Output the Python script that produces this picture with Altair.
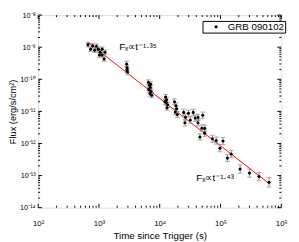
import math
import altair as alt
import pandas as pd

# ---- data ----
time_s = [
    660, 730, 790, 850, 910, 980, 1050, 1130, 1020, 1260, 1220, 1130,
    2850, 2900, 2950, 2900,
    6500, 6800, 7000, 6600, 7200, 6900, 7400, 7100,
    12500, 13000, 12800, 13500, 13200, 12200,
    17500, 18500, 19000, 18000, 19500,
    24800, 26000, 26600, 29700, 31900, 35600, 38300, 42700, 51100, 49300, 55000, 45900, 55000, 42700,
    73500, 85000, 110000, 98000, 150000, 130000, 210000, 300000, 430000, 630000,
]
flux = [
    1.2e-9, 8.7e-10, 1.1e-9, 8.0e-10, 1.07e-9, 8.7e-10, 7.0e-10, 5.7e-10, 5.7e-10, 7.0e-10, 4.3e-10, 8.7e-10,
    3.0e-10, 2.3e-10, 1.7e-10, 2.0e-10,
    8.0e-11, 6.5e-11, 5.5e-11, 4.8e-11, 4.2e-11, 3.6e-11, 3.2e-11, 7.0e-11,
    2.8e-11, 2.3e-11, 1.9e-11, 1.6e-11, 1.3e-11, 2.0e-11,
    2.0e-11, 1.5e-11, 1.2e-11, 9.5e-12, 8.0e-12,
    9.3e-12, 4.4e-12, 6.6e-12, 8.7e-12, 5.4e-12, 9.3e-12, 6.2e-12, 4.4e-12, 7.6e-12, 3.0e-12, 2.1e-12, 1.6e-12, 3.0e-12, 6.5e-12,
    1.4e-12, 1.23e-12, 1.2e-12, 7.1e-13, 4.7e-13, 3.5e-13, 1.6e-13, 1.2e-13, 9.3e-14, 6.2e-14,
]
# error half-width in dex
err_dex = (
    [0.07] * 12 + [0.09] * 4 + [0.08] * 8 + [0.08] * 6 + [0.09] * 5 + [0.10] * 14
    + [0.11, 0.11, 0.11, 0.11, 0.11, 0.11, 0.13, 0.13, 0.13, 0.15]
)
series_name = "GRB 090102"

fit_t = [660, 30000, 650000]
fit_f = [1.42e-9, 5.0e-12, 5.4e-14]

ann_t = [2150, 40000]
ann_f = [1.0e-9, 8.5e-14]
ann_text = ["Fₓ∝t⁻¹·³⁵", "Fₓ∝t⁻¹·⁴³"]

x_major = [1e2, 1e3, 1e4, 1e5, 1e6]
x_labels = ["10²", "10³", "10⁴", "10⁵", "10⁶"]
y_major = [1e-14, 1e-13, 1e-12, 1e-11, 1e-10, 1e-9, 1e-8]
y_labels = ["10⁻¹⁴", "10⁻¹³", "10⁻¹²", "10⁻¹¹", "10⁻¹⁰", "10⁻⁹", "10⁻⁸"]
minor_mult = [2, 3, 4, 5, 6, 7, 8, 9]

W, H = 250, 198
FONT = "Liberation Sans"

df = pd.DataFrame({"t": time_s, "f": flux, "e": err_dex})
df["lo"] = df["f"] / (10 ** df["e"])
df["hi"] = df["f"] * (10 ** df["e"])
df["series"] = series_name

fit = pd.DataFrame({"t": fit_t, "f": fit_f})
ann = pd.DataFrame({"t": ann_t, "f": ann_f, "txt": ann_text})

x_minor = [m * d for d in x_major[:-1] for m in minor_mult]
y_minor = [m * d for d in y_major[:-1] for m in minor_mult]
xt = pd.DataFrame({"t": x_major + x_minor, "len": [4] * len(x_major) + [2] * len(x_minor)})
yt = pd.DataFrame({"f": y_major + y_minor, "len": [4] * len(y_major) + [2] * len(y_minor)})


def label_expr(vals, labels):
    parts = []
    for v, l in zip(vals, labels):
        parts.append(f"abs(log(datum.value)/LN10 - ({round(math.log10(v))})) < 0.01 ? '{l}'")
    return " : ".join(parts) + " : ''"


xscale = alt.Scale(type="log", domain=[1e2, 1e6], nice=False)
yscale = alt.Scale(type="log", domain=[1e-14, 1e-8], nice=False)

xaxis = alt.Axis(values=x_major, labelExpr=label_expr(x_major, x_labels), ticks=False, domain=False,
                 grid=False, labelFontSize=8, labelPadding=12, title="Time since Trigger (s)",
                 titleFontSize=10, titleFontWeight="normal", titlePadding=4, labelFont=FONT, titleFont=FONT,
                 labelColor="black", titleColor="black", labelFlush=False)
yaxis = alt.Axis(values=y_major, labelExpr=label_expr(y_major, y_labels), ticks=False, domain=False,
                 grid=False, labelFontSize=7.5, labelPadding=3, title="Flux (erg/s/cm²)",
                 titleFontSize=9.5, titleFontWeight="normal", titleX=-26, titleY=H / 2,
                 titleBaseline="middle", titleAlign="center", labelFont=FONT, titleFont=FONT,
                 labelColor="black", titleColor="black", labelFlush=False)

X = alt.X("t:Q", scale=xscale, axis=xaxis)
Y = alt.Y("f:Q", scale=yscale, axis=yaxis)

line = alt.Chart(fit).mark_line(color="#ff0000", strokeWidth=1).encode(x=X, y=Y)

bars = alt.Chart(df).mark_rule(color="#8c8c8c", strokeWidth=1).encode(
    x=X, y=alt.Y("lo:Q", scale=yscale, axis=yaxis), y2="hi:Q")
cap_lo = alt.Chart(df).mark_tick(color="#8c8c8c", orient="horizontal", size=5, thickness=1).encode(
    x=X, y=alt.Y("lo:Q", scale=yscale, axis=yaxis))
cap_hi = alt.Chart(df).mark_tick(color="#8c8c8c", orient="horizontal", size=5, thickness=1).encode(
    x=X, y=alt.Y("hi:Q", scale=yscale, axis=yaxis))

pts = alt.Chart(df).mark_point(filled=True, size=10, opacity=1, shape="circle").encode(
    x=X, y=Y,
    color=alt.Color("series:N", scale=alt.Scale(range=["black"]),
                    legend=alt.Legend(title=None, orient="none", legendX=169, legendY=6,
                                      strokeColor="black", fillColor="white", padding=1,
                                      labelFontSize=10, labelFont=FONT, labelColor="black",
                                      symbolType="circle", symbolSize=10, symbolStrokeWidth=0,
                                      symbolFillColor="black", symbolOffset=8, labelOffset=7,
                                      cornerRadius=0)))

text = alt.Chart(ann).mark_text(align="left", baseline="middle", fontSize=10, font=FONT, color="black").encode(
    x=X, y=Y, text="txt:N")

tk = dict(color="black", strokeWidth=1)
xt_bottom = alt.Chart(xt).transform_filter("datum.len == 4").mark_rule(**tk).encode(
    x=X, y=alt.value(H), y2=alt.value(H - 4))
xt_bottom_m = alt.Chart(xt).transform_filter("datum.len == 2").mark_rule(**tk).encode(
    x=X, y=alt.value(H), y2=alt.value(H - 2))
xt_top = alt.Chart(xt).transform_filter("datum.len == 4").mark_rule(**tk).encode(
    x=X, y=alt.value(0), y2=alt.value(4))
xt_top_m = alt.Chart(xt).transform_filter("datum.len == 2").mark_rule(**tk).encode(
    x=X, y=alt.value(0), y2=alt.value(2))
yt_left = alt.Chart(yt).transform_filter("datum.len == 4").mark_rule(**tk).encode(
    y=Y, x=alt.value(0), x2=alt.value(4))
yt_left_m = alt.Chart(yt).transform_filter("datum.len == 2").mark_rule(**tk).encode(
    y=Y, x=alt.value(0), x2=alt.value(2))
yt_right = alt.Chart(yt).transform_filter("datum.len == 4").mark_rule(**tk).encode(
    y=Y, x=alt.value(W), x2=alt.value(W - 4))
yt_right_m = alt.Chart(yt).transform_filter("datum.len == 2").mark_rule(**tk).encode(
    y=Y, x=alt.value(W), x2=alt.value(W - 2))

chart = alt.layer(
    xt_bottom, xt_bottom_m, xt_top, xt_top_m, yt_left, yt_left_m, yt_right, yt_right_m,
    line, bars, cap_lo, cap_hi, pts, text,
).properties(
    width=W, height=H,
    autosize=alt.AutoSizeParams(type="none"),
    padding={"left": 31, "top": 4, "right": 10, "bottom": 32},
).configure_view(stroke="black", strokeWidth=1).configure(background="white")

chart.save("out.html", embed_options={"renderer": "svg", "actions": False})
